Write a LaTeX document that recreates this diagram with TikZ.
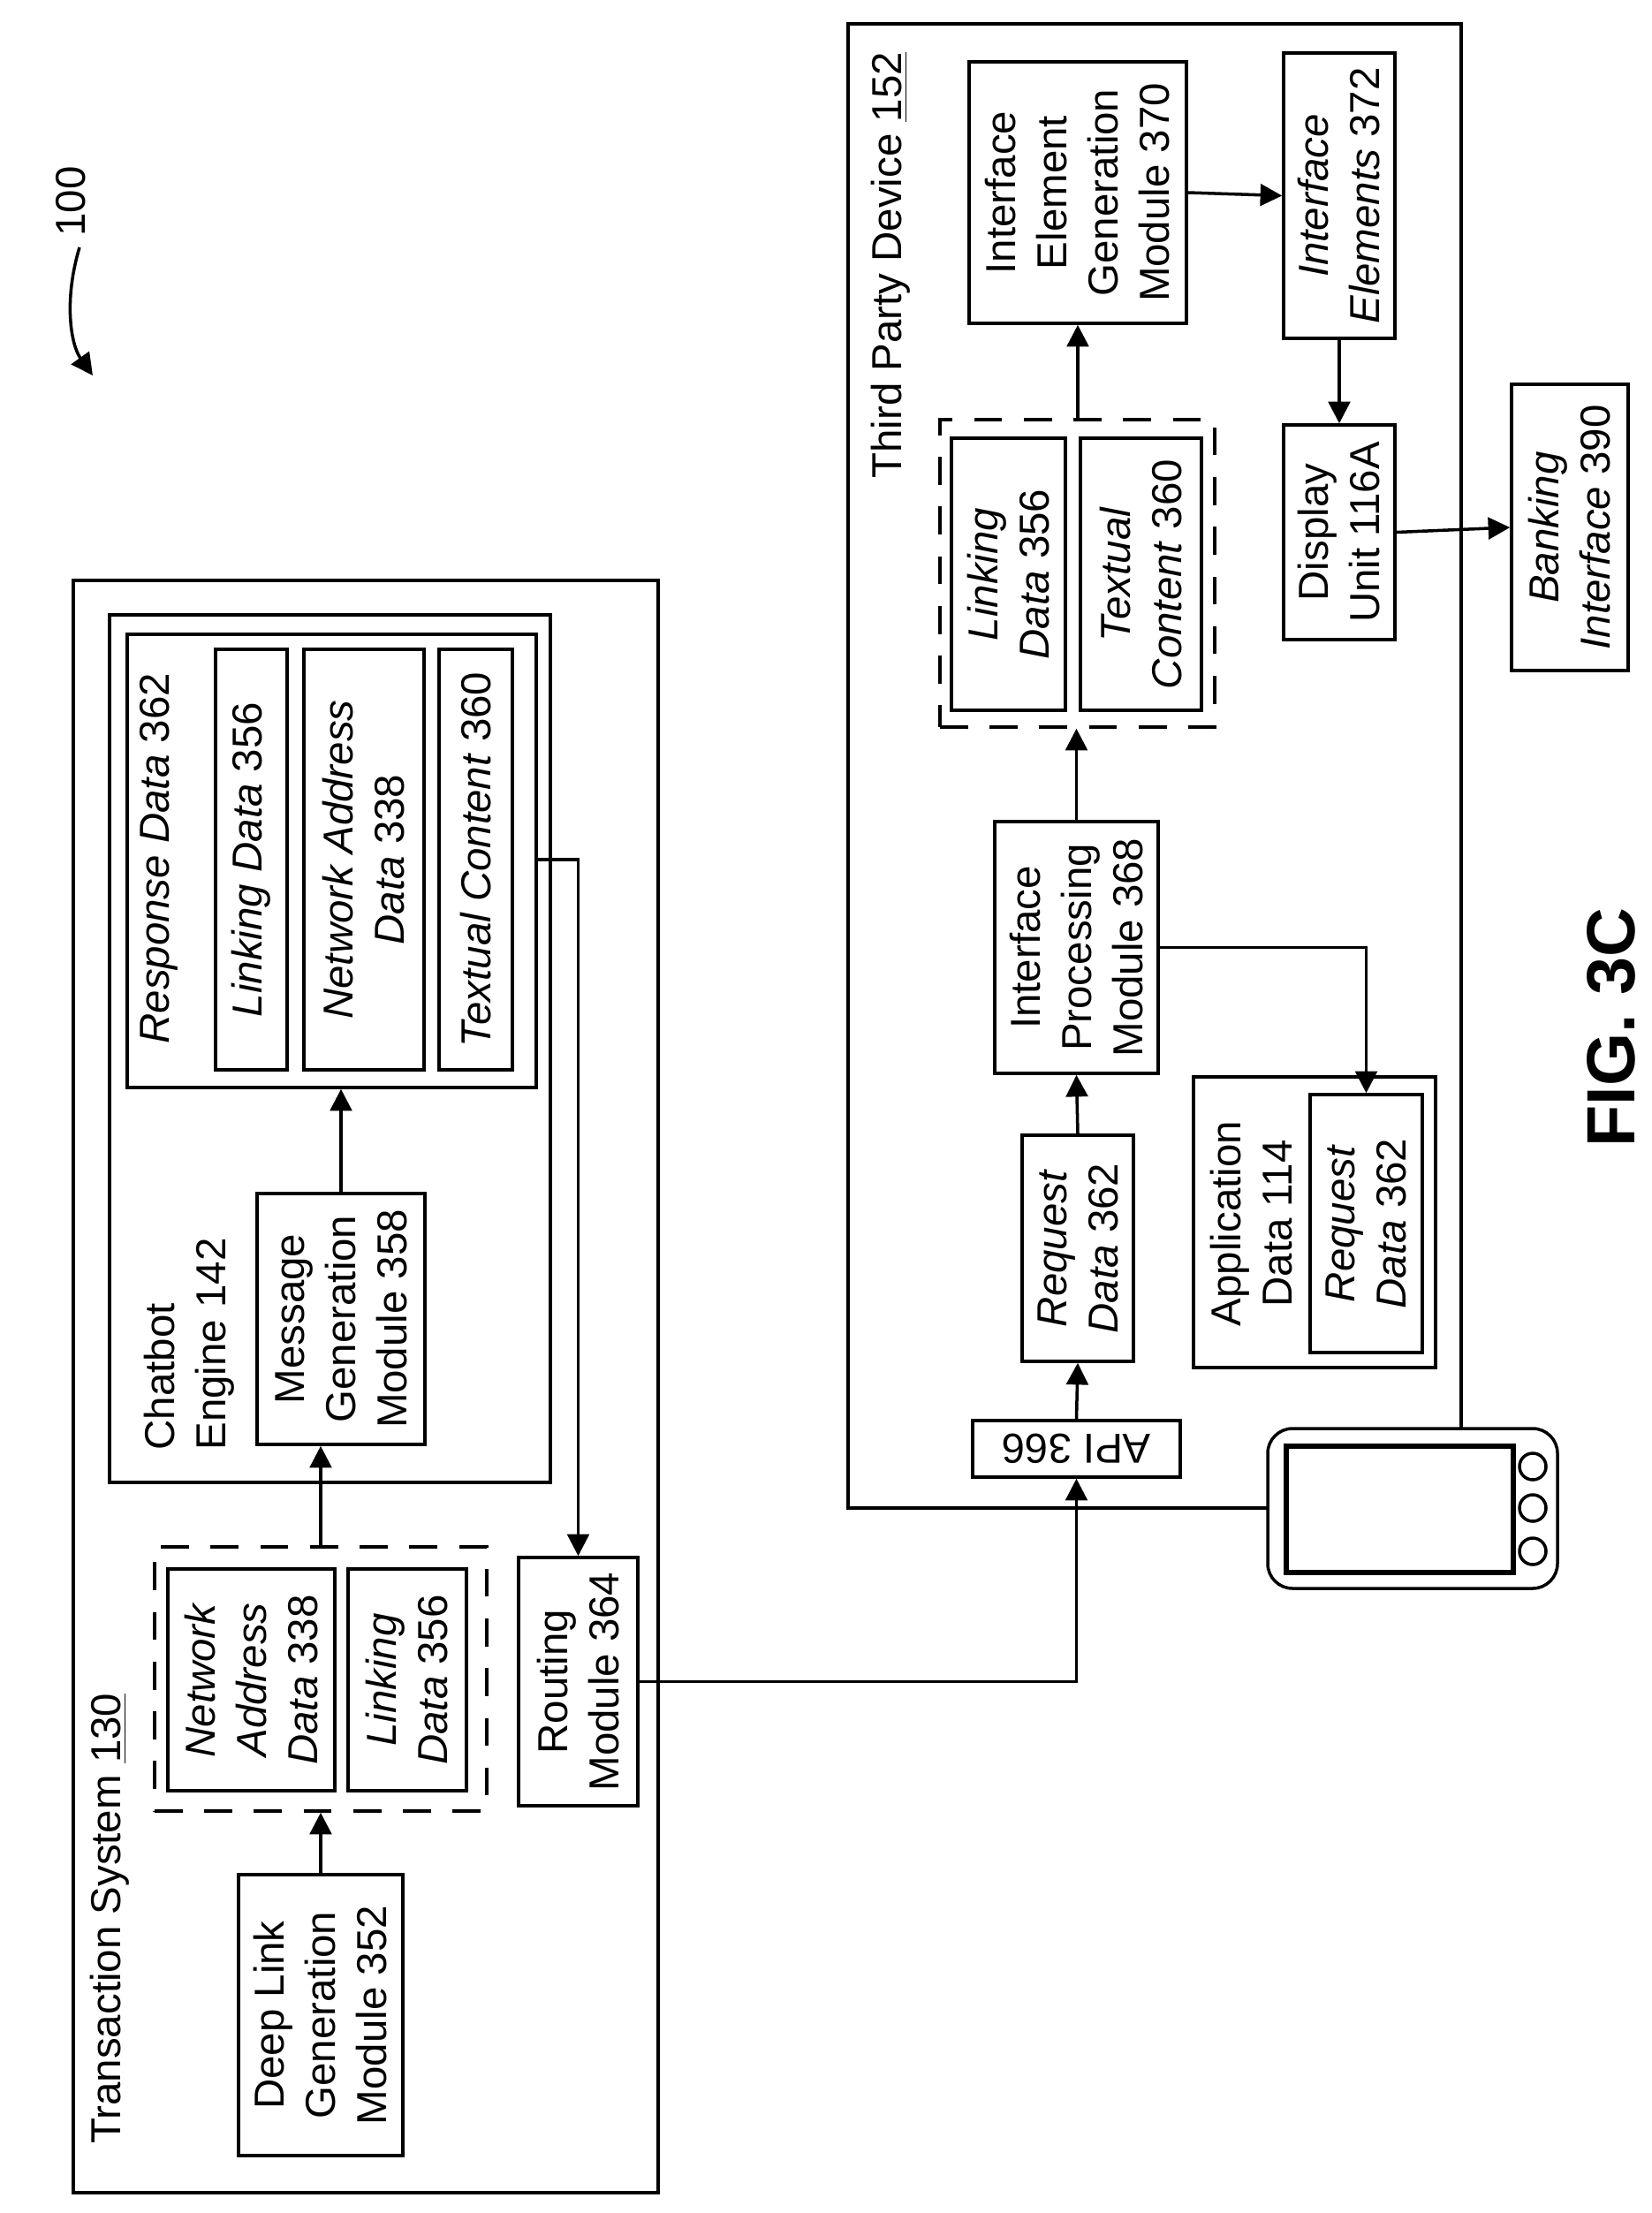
\documentclass[tikz,border=0pt]{standalone}
\usepackage{fontspec}
\setmainfont{Liberation Sans}
\usetikzlibrary{arrows.meta}

\begin{document}
\begin{tikzpicture}[x=1cm, y=-1cm, line width=1pt,
    font=\fontsize{13.5}{16.5}\selectfont,
    blk/.style={draw, rotate=90, align=center, inner sep=0pt},
    frm/.style={draw, inner sep=0pt},
    dsh/.style={draw, dash pattern=on 9pt off 7pt, inner sep=0pt},
    arr/.style={-{Triangle[length=7pt, width=7pt]}}]
          \useasboundingbox (0, 0) rectangle (18.69, 25.05);

          % transaction system
          \draw (0.83, 6.57) rectangle (7.45, 24.82);
          \node[rotate=90, anchor=west] (tslabel) at (1.24, 24.40) {Transaction System \underline{130}};
          \node[frm, minimum width=4.99cm, minimum height=9.82cm] (chat) at (3.735, 11.87) {};
          \node[rotate=90, anchor=north west, align=left] (chatlabel) at (1.50, 16.55) {Chatbot\\Engine 142};
          \node[frm, minimum width=4.63cm, minimum height=5.13cm] (resp) at (3.755, 9.745) {};
          \node[rotate=90, anchor=west] (resplabel) at (1.80, 11.95) {\textit{Response Data} 362};
          \node[blk, minimum width=4.76cm, minimum height=0.81cm] (linkA) at (2.845, 9.73) {\textit{Linking Data} 356};
          \node[blk, minimum width=4.76cm, minimum height=1.36cm] (netA) at (4.12, 9.73) {\textit{Network Address}\\\textit{Data} 338};
          \node[blk, minimum width=4.76cm, minimum height=0.83cm] (textA) at (5.385, 9.73) {\textit{Textual Content} 360};
          \node[blk, minimum width=2.84cm, minimum height=1.90cm] (msg) at (3.86, 14.93) {Message\\Generation\\Module 358};
          \node[dsh, minimum width=3.76cm, minimum height=2.99cm] (dashA) at (3.63, 19.005) {};
          \node[blk, minimum width=2.51cm, minimum height=1.89cm] (netB) at (2.845, 19.015) {\textit{Network}\\\textit{Address}\\\textit{Data} 338};
          \node[blk, minimum width=2.51cm, minimum height=1.34cm] (linkB) at (4.61, 19.015) {\textit{Linking}\\\textit{Data} 356};
          \node[blk, minimum width=3.18cm, minimum height=1.86cm] (deep) at (3.63, 22.81) {Deep Link\\Generation\\Module 352};
          \node[blk, minimum width=2.81cm, minimum height=1.35cm] (routing) at (6.545, 19.035) {Routing\\Module 364};

          % third party device
          \draw (9.60, 0.27) rectangle (16.54, 17.07);
          \node[rotate=90, anchor=west] (tplabel) at (10.08, 5.55) {Third Party Device \underline{152}};
          \node[draw, rotate=180, inner sep=0pt, minimum width=2.35cm, minimum height=0.64cm] (api) at (12.185, 16.40) {API 366};
          \node[blk, minimum width=2.56cm, minimum height=1.26cm] (req) at (12.20, 14.13) {\textit{Request}\\\textit{Data} 362};
          \node[blk, minimum width=2.85cm, minimum height=1.85cm] (ip) at (12.185, 10.725) {Interface\\Processing\\Module 368};
          \node[dsh, minimum width=3.11cm, minimum height=3.48cm] (dashB) at (12.195, 6.49) {};
          \node[blk, minimum width=3.08cm, minimum height=1.29cm] (linkC) at (11.415, 6.50) {\textit{Linking}\\\textit{Data} 356};
          \node[blk, minimum width=3.08cm, minimum height=1.37cm] (textC) at (12.915, 6.50) {\textit{Textual}\\\textit{Content} 360};
          \node[blk, minimum width=2.96cm, minimum height=2.46cm] (ieg) at (12.20, 2.18) {Interface\\Element\\Generation\\Module 370};
          \node[blk, minimum width=3.23cm, minimum height=1.26cm] (ie) at (15.16, 2.215) {\textit{Interface}\\\textit{Elements} 372};
          \node[blk, minimum width=2.43cm, minimum height=1.26cm] (disp) at (15.16, 6.025) {Display\\Unit 116A};
          \node[blk, minimum width=3.24cm, minimum height=1.32cm] (bank) at (17.77, 5.97) {\textit{Banking}\\\textit{Interface} 390};
          \node[frm, minimum width=2.74cm, minimum height=3.29cm] (app) at (14.88, 13.835) {};
          \node[rotate=90, align=center] (applabel) at (14.17, 13.85) {Application\\Data 114};
          \node[blk, minimum width=2.92cm, minimum height=1.27cm] (reqB) at (15.465, 13.85) {\textit{Request}\\\textit{Data} 362};

          % phone
          \draw[fill=white, rounded corners=8pt] (14.35, 16.17) rectangle (17.63, 17.98);
          \draw[line width=1.6pt] (14.56, 16.37) rectangle (17.13, 17.80);
          \foreach \y in {16.60, 17.07, 17.56}
            \draw (17.35, \y) circle (0.15);

          \draw[arr] (deep.east) -- (deep.east |- dashA.south);
          \draw[arr] (deep.east |- dashA.north) -- (deep.east |- msg.west);
          \draw[arr] (msg.east) -- (msg.east |- resp.south);
          \draw[arr] (textA.south -| resp.east) -| (routing.east);
          \draw[arr] (routing.south) -| (api.north);
          \draw[arr] (api.south) -- (req.west);
          \draw[arr] (req.east) -- (ip.west);
          \draw[arr] (ip.east) -- (ip.east |- dashB.south);
          \draw[arr] (ieg.west |- dashB.north) -- (ieg.west);
          \draw[arr] (ieg.south) -- (ie.north);
          \draw[arr] (ie.west) -- (disp.east);
          \draw[arr] (disp.south) -- (bank.north);
          \draw[arr] (ip.south) -| (reqB.east);

          \node[rotate=90] (ref) at (0.80, 2.28) {100};
          \draw[arr] (0.90, 2.80) .. controls (0.72, 3.40) and (0.80, 3.90) .. (1.05, 4.25);
          \node[rotate=90, font=\fontsize{22}{26}\selectfont\bfseries] (fig) at (18.24, 11.63) {FIG. 3C};
        \end{tikzpicture}
\end{document}
